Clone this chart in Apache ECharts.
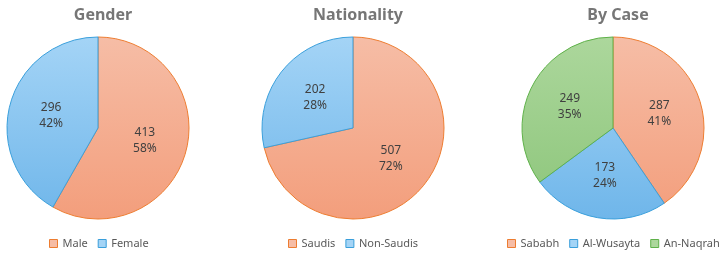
<!DOCTYPE html>
<html><head><meta charset="utf-8">
<script src="https://cdn.jsdelivr.net/npm/echarts@6/dist/echarts.min.js"></script>
<style>html,body{margin:0;padding:0;background:#fff}#c{width:723px;height:253px}</style>
</head><body><div id="c"></div>
<script>
const titles = ['Gender', 'Nationality', 'By Case'];
const genderCats = ['Male', 'Female'];
const genderVals = [413, 296];
const natCats = ['Saudis', 'Non-Saudis'];
const natVals = [507, 202];
const caseCats = ['Sababh', 'Al-Wusayta', 'An-Naqrah'];
const caseVals = [287, 173, 249];

const FONT = 'Noto Sans';
const palette = {
  orange: {top: '#f6bda6', bot: '#f39e7c', line: '#ed7d31'},
  blue: {top: '#a4d4f6', bot: '#6fb6ea', line: '#3a9fdb'},
  green: {top: '#acd79c', bot: '#8cc57a', line: '#5fb14a'}
};
const colorOrder = ['orange', 'blue', 'green'];
const centersX = [98, 353, 613];
const cy = 128, r = 91;
const LEG_FS = 11, ICON = 8, GAP = 10;

const ctx = document.createElement('canvas').getContext('2d');
ctx.font = LEG_FS + 'px "' + FONT + '"';
function legendWidth(cats) {
  let w = 0;
  cats.forEach((c, i) => { w += ICON + 5 + ctx.measureText(c).width + (i ? GAP : 0); });
  return w;
}

function grad(p) {
  return new echarts.graphic.LinearGradient(0, cy - r, 0, cy + r, [
    {offset: 0, color: p.top}, {offset: 1, color: p.bot}
  ], true);
}

const groups = [[genderCats, genderVals], [natCats, natVals], [caseCats, caseVals]];
const series = [], legends = [], titleOpts = [];
groups.forEach(([cats, vals], gi) => {
  titleOpts.push({
    text: titles[gi], left: centersX[gi], top: 2, textAlign: 'center',
    textStyle: {fontFamily: FONT, fontSize: 16, fontWeight: 'bold', color: '#767676'}
  });
  series.push({
    type: 'pie', center: [centersX[gi], cy], radius: r, startAngle: 90, clockwise: true,
    animation: false, silent: true,
    data: cats.map((c, i) => {
      const p = palette[colorOrder[i]];
      return {name: c, value: vals[i], itemStyle: {color: grad(p), borderColor: p.line, borderWidth: 1}};
    }),
    label: {show: true, position: 'inside', formatter: '{c}\n{d}%', fontFamily: FONT, fontSize: 12,
      color: '#404040', lineHeight: 16},
    labelLine: {show: false},
    percentPrecision: 0
  });
  const lw = legendWidth(cats);
  legends.push({
    data: cats.map((c, i) => ({name: c, itemStyle: {color: palette[colorOrder[i]].top, borderColor: palette[colorOrder[i]].line, borderWidth: 1}})),
    left: Math.round(centersX[gi] - lw / 2), bottom: 4, width: 400, orient: 'horizontal', icon: 'rect',
    itemWidth: ICON, itemHeight: ICON, itemGap: GAP, padding: 0,
    textStyle: {fontFamily: FONT, fontSize: LEG_FS, color: '#595959'}
  });
});

const chart = echarts.init(document.getElementById('c'));
chart.setOption({animation: false, title: titleOpts, legend: legends, series});
</script></body></html>
